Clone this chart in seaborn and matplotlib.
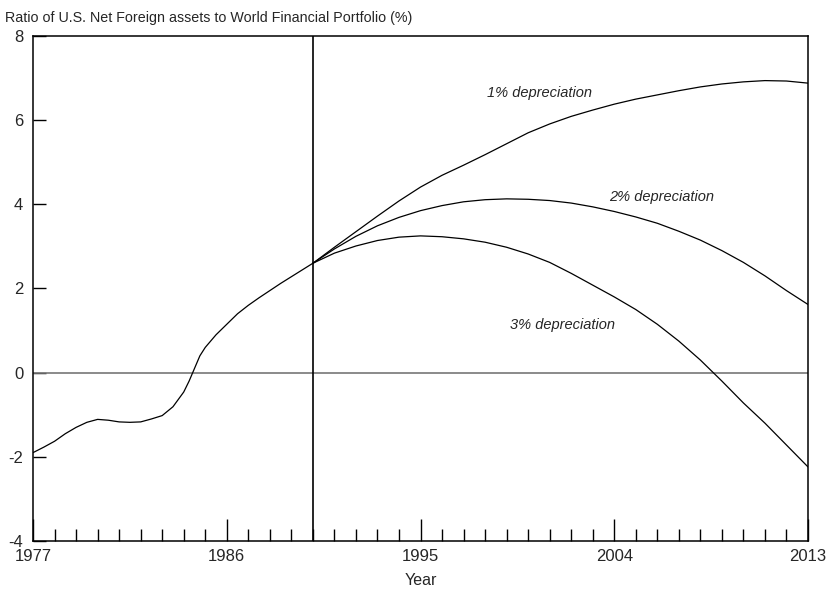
import pandas as pd
import seaborn as sns
import matplotlib.pyplot as plt
from matplotlib.ticker import MultipleLocator

# Historical path up to 1990
hist_years = [1977, 1977.5, 1978, 1978.5, 1979, 1979.5, 1980, 1980.5, 1981, 1981.5,
              1982, 1982.5, 1983, 1983.5, 1984, 1984.25, 1984.5, 1984.75, 1985,
              1985.5, 1986, 1986.5, 1987, 1987.5, 1988, 1988.5, 1989, 1989.5, 1990]
hist_vals = [-1.9, -1.77, -1.63, -1.45, -1.3, -1.18, -1.11, -1.13, -1.17, -1.18,
             -1.17, -1.1, -1.02, -0.81, -0.46, -0.2, 0.1, 0.4, 0.6,
             0.9, 1.15, 1.4, 1.6, 1.78, 1.95, 2.12, 2.28, 2.44, 2.6]

# Projections 1990-2013
proj_years = list(range(1990, 2014))
dep1 = [2.6, 2.98, 3.35, 3.72, 4.08, 4.41, 4.69, 4.93, 5.18, 5.44, 5.7, 5.91,
        6.09, 6.24, 6.38, 6.5, 6.6, 6.7, 6.79, 6.86, 6.91, 6.94, 6.93, 6.88]
dep2 = [2.6, 2.94, 3.24, 3.49, 3.69, 3.85, 3.97, 4.06, 4.11, 4.13, 4.12, 4.09,
        4.03, 3.94, 3.83, 3.7, 3.55, 3.36, 3.15, 2.9, 2.62, 2.3, 1.95, 1.62]
dep3 = [2.6, 2.84, 3.01, 3.14, 3.22, 3.25, 3.23, 3.18, 3.1, 2.98, 2.82, 2.62,
        2.36, 2.08, 1.8, 1.5, 1.15, 0.75, 0.3, -0.2, -0.72, -1.2, -1.72, -2.24]

series_names = ["history", "1% depreciation", "2% depreciation", "3% depreciation"]
label_pos = {"1% depreciation": (2000.55, 6.64),
             "2% depreciation": (2006.2, 4.17),
             "3% depreciation": (2001.6, 1.14)}

df = pd.concat([
    pd.DataFrame({"year": hist_years, "value": hist_vals, "series": series_names[0]}),
    pd.DataFrame({"year": proj_years, "value": dep1, "series": series_names[1]}),
    pd.DataFrame({"year": proj_years, "value": dep2, "series": series_names[2]}),
    pd.DataFrame({"year": proj_years, "value": dep3, "series": series_names[3]}),
])

sns.set_style("white")
plt.rcParams['font.family'] = ['Liberation Sans', 'DejaVu Sans']
plt.rcParams['axes.unicode_minus'] = False

fig = plt.figure(figsize=(8.3, 5.91), dpi=100)
ax = fig.add_axes([0.0398, 0.0846, 0.9337, 0.8545])

sns.lineplot(data=df, x="year", y="value", units="series", estimator=None,
             color="black", linewidth=0.9, ax=ax, legend=False)

ax.axhline(0, color="#777777", linewidth=1.2, zorder=1)
ax.axvline(1990, color="black", linewidth=1.2, zorder=1)

for name, (lx, ly) in label_pos.items():
    ax.text(lx, ly, name, ha="center", va="center", fontsize=10.5, style="italic")

ax.set_xlim(1977, 2013)
ax.set_ylim(-4, 8)
ax.set_xticks([1977, 1986, 1995, 2004, 2013])
ax.xaxis.set_minor_locator(MultipleLocator(1))
ax.set_yticks([-4, -2, 0, 2, 4, 6, 8])
ax.tick_params(axis="x", which="major", direction="in", length=16, width=1,
               labelsize=12, pad=6, bottom=True, top=False, color="black")
ax.tick_params(axis="x", which="minor", direction="in", length=8.5, width=1,
               bottom=True, top=False, color="black")
ax.tick_params(axis="y", which="major", direction="in", length=9, width=1,
               labelsize=12, pad=7, left=True, right=False, color="black")

for s in ax.spines.values():
    s.set_visible(True)
    s.set_color("black")
    s.set_linewidth(1.1)

ax.set_xlabel("Year", fontsize=11.5, labelpad=6)
ax.set_ylabel("")
fig.text(0.006, 1 - 18 / 591, "Ratio of U.S. Net Foreign assets to World Financial Portfolio (%)",
         fontsize=10.3, ha="left", va="center")

fig.savefig("out.png", dpi=100)
